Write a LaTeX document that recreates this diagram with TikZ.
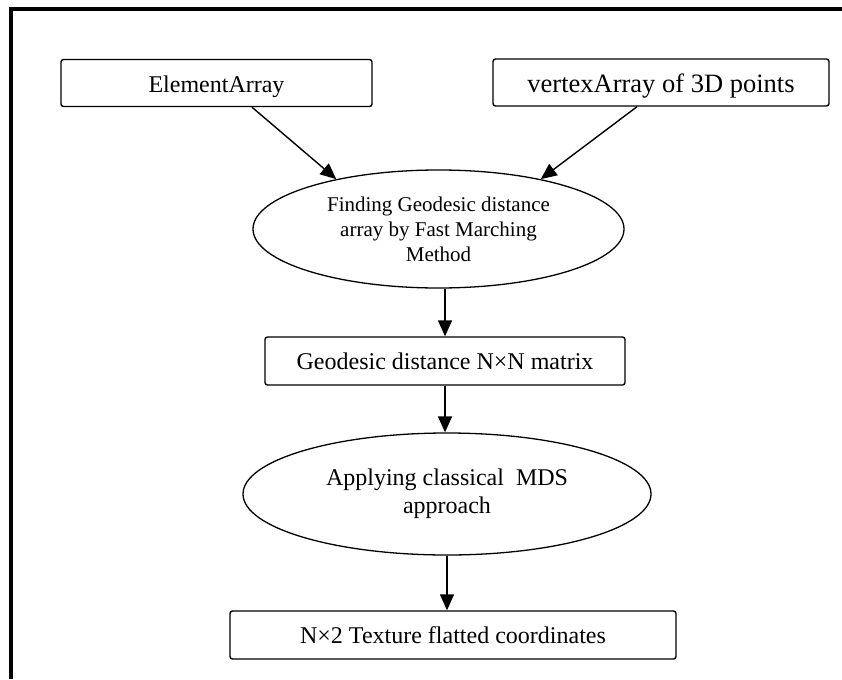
\documentclass[tikz,border=0pt]{standalone}
\usepackage{fontspec}
\setmainfont{Liberation Serif}
\usetikzlibrary{arrows.meta,shapes.geometric}
\begin{document}
\begin{tikzpicture}[x=1pt,y=-1pt,
  box/.style={draw,line width=1.4pt,rounded corners=2.5pt,inner sep=0pt,align=center},
  oval/.style={draw,ellipse,line width=1.3pt,inner sep=0pt,align=center},
  arr/.style={line width=1.4pt,-{Triangle[length=16pt,width=14pt]}},
  frameline/.style={line width=4pt,line join=miter},
  txt/.style={font=\fontsize{24}{28}\selectfont}]
\useasboundingbox (0,0) rectangle (842,679);
\draw[frameline] (11,679) -- (11,9) -- (842,9);

\node[box,txt,minimum width=311pt,minimum height=47pt,text height=20pt,text depth=0pt] (ea) at (216.5,83) {ElementArray};

\node[box,minimum width=336pt,minimum height=47pt] (va) at (661,82.5) {};
\begin{scope}
  \clip (va.north west) rectangle ([yshift=9pt]va.south east);
  \node[anchor=base,font=\fontsize{26.5}{30}\selectfont,inner sep=0pt] (vat) at ([yshift=-10.5pt]va.center) {vertexArray of 3D points};
\end{scope}

\node[oval,minimum width=371pt,minimum height=118pt,font=\fontsize{21}{25}\selectfont] (e1) at (438.5,229) {Finding Geodesic distance\\array by Fast Marching\\Method};

\node[box,txt,minimum width=360pt,minimum height=48pt,text height=16pt,text depth=0pt] (geo) at (445,361) {Geodesic distance N×N matrix};

\node[oval,txt,minimum width=408pt,minimum height=122pt] (e2) at (447,494) {Applying classical\ \ MDS\\approach};

\node[box,txt,minimum width=446pt,minimum height=48pt,text height=16pt,text depth=0pt] (b4) at (453,635) {N×2 Texture flatted coordinates};

\draw[arr] ([xshift=35.5pt]ea.south) -- (e1.154);
\draw[arr] ([xshift=-24pt]va.south) -- (e1.26);
\draw[arr] (e1.south -| geo.north) -- (geo.north);
\draw[arr] (geo.south) -- (geo.south |- e2.north);
\draw[arr] (e2.south) -- (e2.south |- b4.north);
\end{tikzpicture}
\end{document}
